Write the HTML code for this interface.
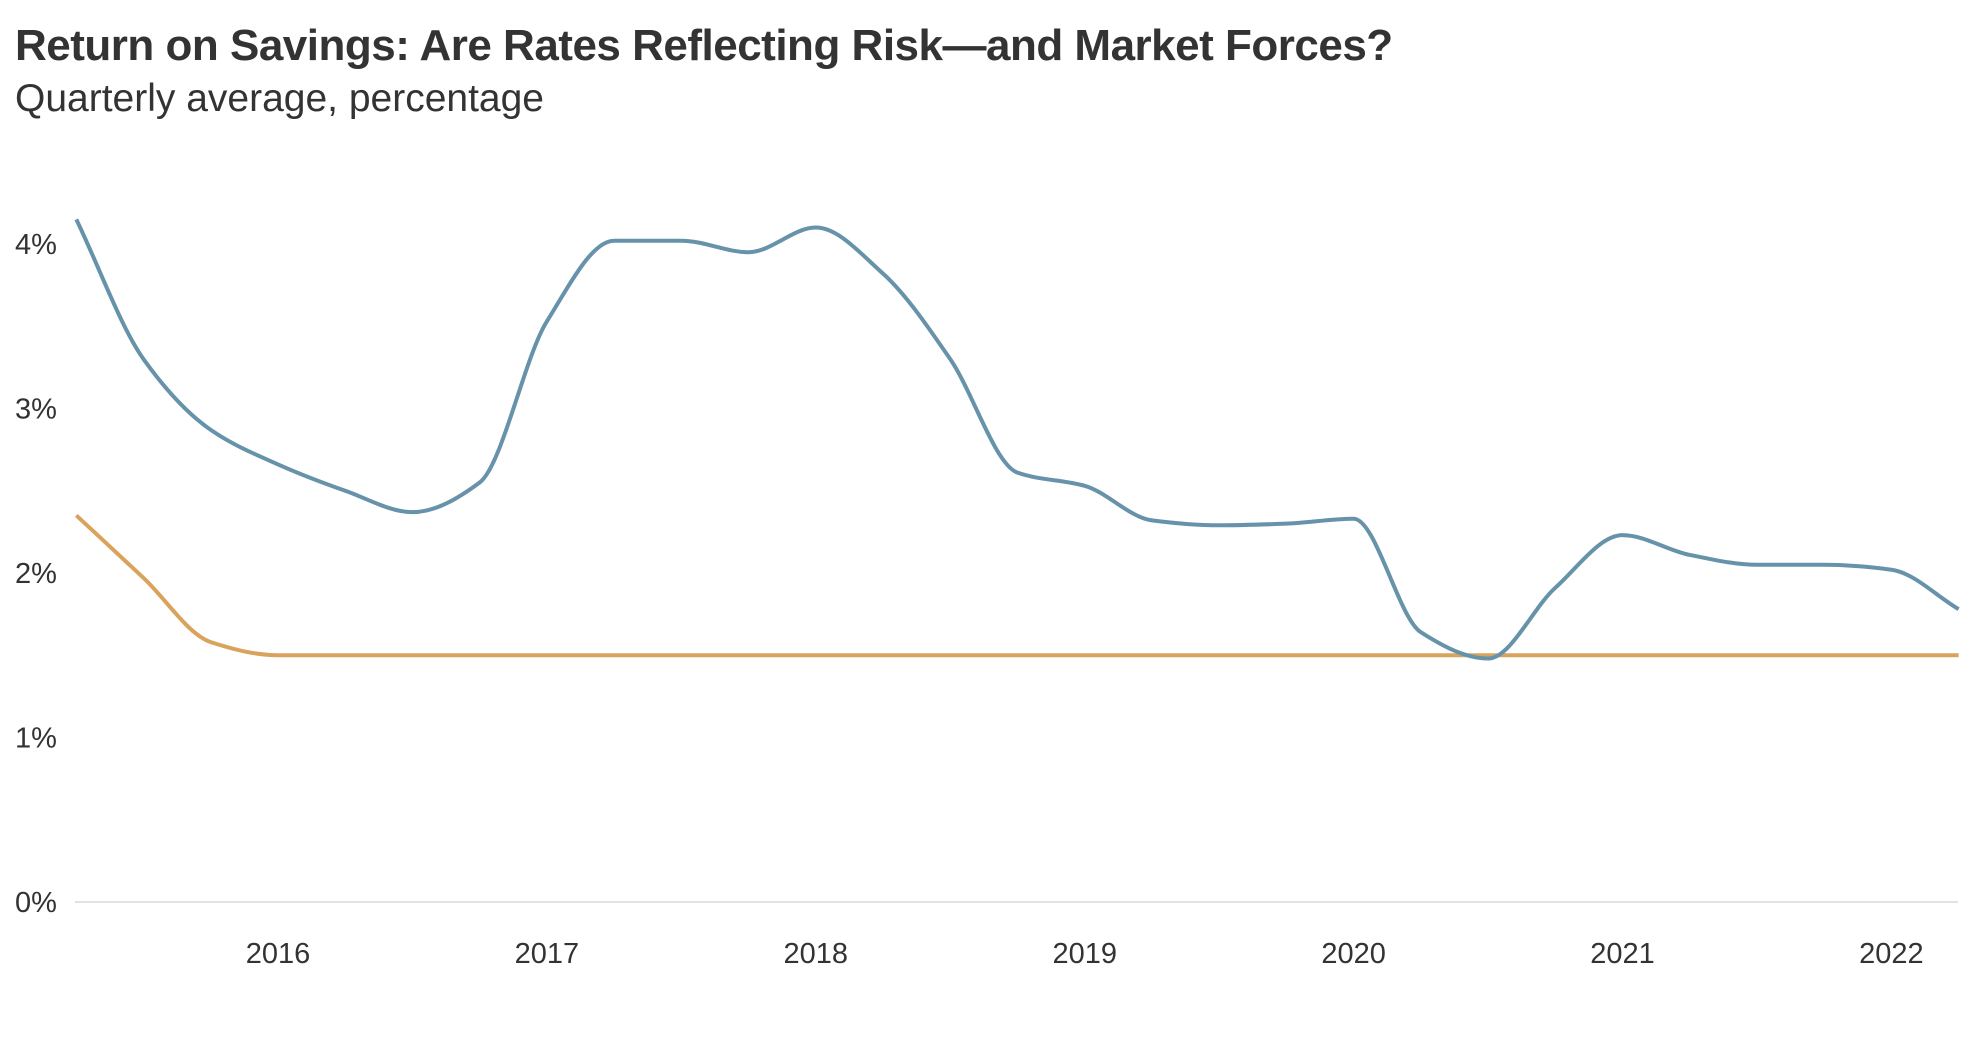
<!DOCTYPE html>
<html><head><meta charset="utf-8"><style>
body{margin:0;background:#fff;width:1986px;height:1060px;overflow:hidden;font-family:"Liberation Sans",sans-serif;}
#title{position:absolute;left:15px;top:21px;font-size:44px;font-weight:bold;color:#333;letter-spacing:-0.5px;}
#sub{position:absolute;left:15px;top:77px;font-size:39px;color:#333;}
svg{position:absolute;left:0;top:0;}
</style></head><body>
<div id="title">Return on Savings: Are Rates Reflecting Risk—and Market Forces?</div>
<div id="sub">Quarterly average, percentage</div>
<svg id="chart" width="1986" height="1060"></svg>
<script>
const times=[2015.25,2015.5,2015.75,2016,2016.25,2016.5,2016.75,2017,2017.25,2017.5,2017.75,2018,2018.25,2018.5,2018.75,2019,2019.25,2019.5,2019.75,2020,2020.25,2020.5,2020.75,2021,2021.25,2021.5,2021.75,2022,2022.25];
const blueValues=[4.15,3.3,2.87,2.66,2.5,2.37,2.55,3.53,4.02,4.02,3.95,4.1,3.82,3.3,2.61,2.53,2.32,2.29,2.3,2.33,1.64,1.48,1.91,2.23,2.11,2.05,2.05,2.02,1.78];
const orangeValues=[2.35,1.97,1.58,1.5,1.5,1.5,1.5,1.5,1.5,1.5,1.5,1.5,1.5,1.5,1.5,1.5,1.5,1.5,1.5,1.5,1.5,1.5,1.5,1.5,1.5,1.5,1.5,1.5,1.5];
const yTicks=[0,1,2,3,4];
const xTicks=[2016,2017,2018,2019,2020,2021,2022];
const NS="http://www.w3.org/2000/svg";
const svg=document.getElementById('chart');
const L=75,R=1958;
const x=t=>278+(t-2016)*268.9;
const y=v=>902-v*164.5;
function mk(tag,attrs){const e=document.createElementNS(NS,tag);for(const k in attrs)e.setAttribute(k,attrs[k]);svg.appendChild(e);return e;}
const base=mk('line',{x1:L,x2:R,y1:y(0),y2:y(0),stroke:'#e2e2e2','stroke-width':2});


yTicks.forEach(v=>{const t=mk('text',{x:15,y:y(v)+10,'font-size':29,fill:'#333'});t.textContent=v+'%';

});
xTicks.forEach(v=>{const t=mk('text',{x:x(v),y:963,'font-size':29,fill:'#333','text-anchor':'middle'});t.textContent=v;

});
function monotone(xs,ys){const n=xs.length,d=[],m=[];for(let i=0;i<n-1;i++)d.push((ys[i+1]-ys[i])/(xs[i+1]-xs[i]));
m[0]=d[0];m[n-1]=d[n-2];for(let i=1;i<n-1;i++){m[i]=(d[i-1]*d[i]<=0)?0:3*(xs[i+1]-xs[i-1])/((2*xs[i+1]-xs[i]-xs[i-1])/d[i-1]+(xs[i+1]+xs[i]-2*xs[i-1])/d[i]);}
let p='M'+xs[0]+','+ys[0];for(let i=0;i<n-1;i++){const h=(xs[i+1]-xs[i])/3;p+='C'+(xs[i]+h)+','+(ys[i]+m[i]*h)+' '+(xs[i+1]-h)+','+(ys[i+1]-m[i+1]*h)+' '+xs[i+1]+','+ys[i+1];}return p;}
const ob=mk('path',{d:monotone(times.map(x),orangeValues.map(y)),fill:'none',stroke:'#d9a35c','stroke-width':4});


const bl=mk('path',{d:monotone(times.map(x),blueValues.map(y)),fill:'none',stroke:'#6692aa','stroke-width':4});


</script>
</body></html>
